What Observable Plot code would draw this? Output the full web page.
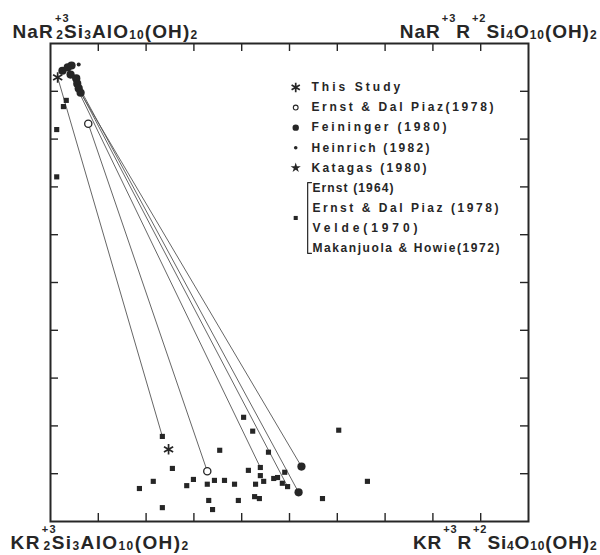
<!DOCTYPE html>
<html><head><meta charset="utf-8">
<script src="https://cdn.jsdelivr.net/npm/d3@7"></script>
<script src="https://cdn.jsdelivr.net/npm/@observablehq/plot@0.6"></script>
<style>
body{margin:0;background:#fff;}
#chart{width:600px;height:555px;}
</style></head><body><div id="chart"></div>
<script>
// ---------- data (0–10 composition scale; x: toward R+3R+2Si4, y: toward Na end-member) ----------
const tickValues = [1, 2, 3, 4, 5, 6, 7, 8, 9];

const thisStudy = [[0.15, 9.29], [2.47, 1.51]];
const ernstDalPiazOpen = [[0.79, 8.32], [3.28, 1.05]];
const feininger = [[0.25, 9.43], [0.36, 9.50], [0.44, 9.54], [0.42, 9.35], [0.54, 9.27],
                   [0.56, 9.16], [0.59, 9.06], [0.63, 8.97], [5.25, 1.15], [5.19, 0.61]];
const heinrich = [[0.59, 9.56]];
const compiledTop = [[0.33, 8.81], [0.27, 8.68], [0.13, 8.20], [0.13, 7.21]];
const compiledBottom = [[1.86, 0.69], [2.15, 0.84], [2.34, 1.78], [2.55, 1.11], [2.34, 0.29],
  [2.85, 0.75], [2.99, 0.88], [3.54, 1.49], [3.28, 0.78], [3.43, 0.86], [3.64, 0.86],
  [3.85, 0.78], [3.31, 0.44], [3.39, 0.25], [3.93, 0.44], [4.04, 2.18], [4.23, 1.89],
  [4.56, 1.45], [4.14, 1.07], [4.39, 1.13], [4.39, 0.96], [4.46, 0.84], [4.29, 0.78],
  [4.67, 0.90], [4.75, 0.92], [4.90, 1.03], [4.85, 0.80], [4.96, 0.73], [4.27, 0.52],
  [4.37, 0.48], [5.69, 0.48], [6.03, 1.91], [6.63, 0.84]];
const tieFrom = [[0.15, 9.29], [0.79, 8.32], [0.42, 9.35], [0.56, 9.16], [0.59, 9.06], [0.63, 8.97]];
const tieTo   = [[2.34, 1.78], [3.28, 1.05], [4.39, 1.13], [5.19, 0.61], [4.96, 0.73], [5.25, 1.15]];

const legendLabels = ["This Study", "Ernst & Dal Piaz(1978)", "Feininger (1980)", "Heinrich (1982)", "Katagas (1980)"];
const groupLabels = ["Ernst (1964)", "Ernst & Dal Piaz (1978)", "Velde(1970)", "Makanjuola & Howie(1972)"];

const cornerLabels = [
  "NaR^{+3}_{2}Si_{3}AlO_{10}(OH)_{2}",
  "NaR^{+3}R^{+2}Si_{4}O_{10}(OH)_{2}",
  "KR^{+3}_{2}Si_{3}AlO_{10}(OH)_{2}",
  "KR^{+3}R^{+2}Si_{4}O_{10}(OH)_{2}"
];

// ---------- layout / style ----------
const W = 600, H = 555;
const mL = 50, mR = 72, mT = 43, mB = 34;
const innerW = W - mL - mR, innerH = H - mT - mB;
const TICK = 8;
const ink = "#262626";
const FONT = "'Liberation Sans', Arial, Helvetica, sans-serif";
const CFS = 19; // corner label font size

// target text widths (px) used to set letter spacing
const legendWidths = [89, 182, 135, 118, 115];
const groupWidths = [81, 186, 105, 187];
const cornerWidths = [185, 197, 178, 184];

// legend layout (plot units)
const legX = 5.13, legTextX = 5.46, legY0 = 9.08, legStep = 0.42;
const rows = legendLabels.map((label, i) => ({label, x: legX, y: legY0 - i * legStep}));
const groupRows = groupLabels.map((label, i) => ({label, y: legY0 - (i + 5) * legStep}));
const groupMid = (groupRows[1].y + groupRows[2].y) / 2;
const bx = 5.38, bHook = 0.08;
const bracket = [[bx + bHook, groupRows[0].y + 0.11], [bx, groupRows[0].y + 0.11],
                 [bx, groupRows[3].y - 0.11], [bx + bHook, groupRows[3].y - 0.11]];

const ties = tieFrom.map((a, i) => ({x1: a[0], y1: a[1], x2: tieTo[i][0], y2: tieTo[i][1]}));
const compiled = compiledTop.concat(compiledBottom);

const px = d => d[0], py = d => d[1];
const cornerStyle = {text: d => d, lineAnchor: "bottom", fontSize: CFS, fontWeight: "bold", fill: ink};

const chart = Plot.plot({
  width: W, height: H,
  marginLeft: mL, marginRight: mR, marginTop: mT, marginBottom: mB,
  x: {domain: [0, 10], axis: null},
  y: {domain: [0, 10], axis: null},
  style: {background: "#fff", fontFamily: FONT, color: ink},
  marks: [
    // inward ticks on all four sides
    Plot.ruleX(tickValues, {x: d => d, y1: 10, y2: 0, insetTop: innerH - TICK, stroke: ink, strokeWidth: 1.4}),
    Plot.ruleX(tickValues, {x: d => d, y1: 10, y2: 0, insetBottom: innerH - TICK, stroke: ink, strokeWidth: 1.4}),
    Plot.ruleY(tickValues, {y: d => d, x1: 0, x2: 10, insetRight: innerW - TICK, stroke: ink, strokeWidth: 1.4}),
    Plot.ruleY(tickValues, {y: d => d, x1: 0, x2: 10, insetLeft: innerW - TICK, stroke: ink, strokeWidth: 1.4}),
    Plot.frame({stroke: ink, strokeWidth: 2}),
    // tie lines
    Plot.link(ties, {x1: "x1", y1: "y1", x2: "x2", y2: "y2", stroke: "#555", strokeWidth: 0.9}),
    // data points
    Plot.dot(compiled, {x: px, y: py, symbol: "square", r: 2.9, fill: ink}),
    Plot.dot(feininger, {x: px, y: py, r: 4.1, fill: ink}),
    Plot.dot(heinrich, {x: px, y: py, r: 2, fill: ink}),
    Plot.dot(ernstDalPiazOpen, {x: px, y: py, r: 3.6, fill: "#fff", stroke: ink, strokeWidth: 1.3}),
    Plot.dot(thisStudy, {x: px, y: py, symbol: "asterisk", r: 5, stroke: ink, strokeWidth: 1.7}),
    // legend symbols
    Plot.dot(rows.slice(0, 1), {x: "x", y: "y", symbol: "asterisk", r: 4.5, stroke: ink, strokeWidth: 1.7}),
    Plot.dot(rows.slice(1, 2), {x: "x", y: "y", r: 2.4, fill: "#fff", stroke: ink, strokeWidth: 1.1}),
    Plot.dot(rows.slice(2, 3), {x: "x", y: "y", r: 3.2, fill: ink}),
    Plot.dot(rows.slice(3, 4), {x: "x", y: "y", r: 1.8, fill: ink}),
    Plot.dot(rows.slice(4, 5), {x: "x", y: "y", symbol: "star", r: 3.2, fill: ink}),
    Plot.dot([groupMid], {x: legX, y: d => d, symbol: "square", r: 2.3, fill: ink}),
    Plot.line(bracket, {x: px, y: py, stroke: ink, strokeWidth: 1.2}),
    // legend text
    Plot.text(rows, {x: legTextX, y: "y", text: "label", textAnchor: "start", fontSize: 12, fontWeight: "bold", fill: ink}),
    Plot.text(groupRows, {x: bx + bHook + 0.02, y: "y", text: "label", textAnchor: "start", fontSize: 12, fontWeight: "bold", fill: ink}),
    // corner end-member labels
    Plot.text([cornerLabels[0]], {...cornerStyle, x: 0, y: 10, textAnchor: "start", dx: -38, dy: -6}),
    Plot.text([cornerLabels[1]], {...cornerStyle, x: 10, y: 10, textAnchor: "end", dx: 69, dy: -6}),
    Plot.text([cornerLabels[2]], {...cornerStyle, x: 0, y: 0, textAnchor: "start", dx: -40, dy: 27}),
    Plot.text([cornerLabels[3]], {...cornerStyle, x: 10, y: 0, textAnchor: "end", dx: 69, dy: 27})
  ]
});

document.getElementById("chart").appendChild(chart);
const svg = d3.select(chart);

function richText(el, spec, fs) {
  const sel = d3.select(el);
  sel.text(null);
  let offset = 0, lastSup = null;
  const parts = spec.match(/(\^\{[^}]*\}|_\{[^}]*\}|[^\^_]+)/g);
  for (const m of parts) {
    let kind = "n", s = m;
    if (m.startsWith("^{")) { kind = "sup"; s = m.slice(2, -1); }
    else if (m.startsWith("_{")) { kind = "sub"; s = m.slice(2, -1); }
    const target = kind === "sup" ? -0.84 * fs : kind === "sub" ? 0.08 * fs : 0;
    const t = sel.append("tspan").attr("dy", target - offset).text(s);
    if (kind === "sup") t.attr("font-size", fs * 0.58).attr("dx", 1);
    if (kind === "sub") t.attr("font-size", fs * 0.63);
    if (kind === "sub" && lastSup) t.attr("dx", -lastSup.node().getComputedTextLength() - 1);
    lastSup = kind === "sup" ? t : null;
    offset = target;
  }
}

function fitSpacing(el, target) {
  el.setAttribute("letter-spacing", "0");
  const w = el.getBBox().width;
  const n = el.textContent.length;
  if (n > 1) el.setAttribute("letter-spacing", ((target - w) / (n - 1)).toFixed(2));
}

svg.selectAll("text").each(function() {
  const txt = this.textContent;
  const ci = cornerLabels.indexOf(txt);
  if (ci >= 0) {
    richText(this, txt, CFS);
    fitSpacing(this, cornerWidths[ci]);
    return;
  }
  const li = legendLabels.indexOf(txt);
  if (li >= 0) { fitSpacing(this, legendWidths[li]); return; }
  const gi = groupLabels.indexOf(txt);
  if (gi >= 0) fitSpacing(this, groupWidths[gi]);
});
</script>
</body></html>
